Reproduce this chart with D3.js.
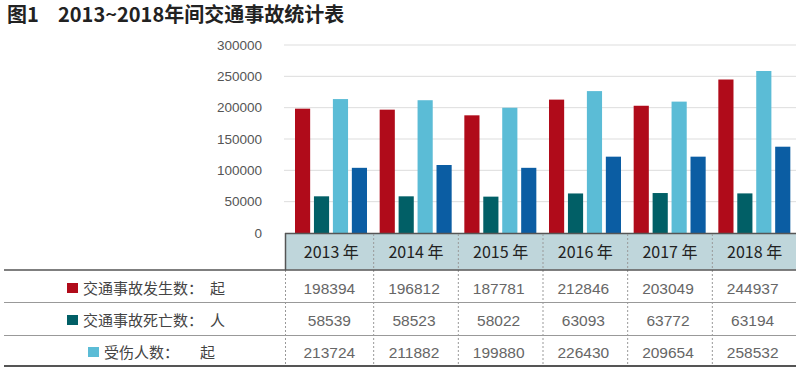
<!DOCTYPE html>
<html><head><meta charset="utf-8">
<script src="https://cdn.jsdelivr.net/npm/d3@7"></script>
<style>html,body{margin:0;padding:0;background:#fff;}svg{display:block;}</style>
</head><body>
<svg id="c" width="800" height="372"></svg>
<script>
const years = ["2013","2014","2015","2016","2017","2018"];
const accidents = [198394,196812,187781,212846,203049,244937];
const deaths = [58539,58523,58022,63093,63772,63194];
const injuries = [213724,211882,199880,226430,209654,258532];
const losses = [104000,108500,104000,121800,121800,137700];
const yTicks = [0,50000,100000,150000,200000,250000,300000];
const seriesNames = ["发生数","死亡数","受伤人数","损失"];
const colors = ["#b00b1a","#015f66","#5bbcd6","#0b5da3"];
const rowLabels = [
  {name:"交通事故发生数：", unit:"起", values:accidents, color:colors[0]},
  {name:"交通事故死亡数：", unit:"人", values:deaths, color:colors[1]},
  {name:"受伤人数：", unit:"起", values:injuries, color:colors[2]}
];

const svg = d3.select("#c");
const font = "'Liberation Sans','Noto Sans CJK SC',sans-serif";
const cjk = "'Noto Sans CJK SC',sans-serif";

svg.append("text").attr("x",7).attr("y",22).attr("font-family",cjk).attr("font-weight","bold")
  .attr("font-size",20).attr("fill","#222").text("图1");
svg.append("text").attr("x",58).attr("y",22).attr("font-family",cjk).attr("font-weight","bold")
  .attr("font-size",20).attr("fill","#222").text("2013~2018年间交通事故统计表");

const x0 = d3.scaleBand().domain(years).range([289,797]);
const x1 = d3.scaleBand().domain(seriesNames).range([6,78]).paddingInner(0.2);
const y = d3.scaleLinear().domain([0,300000]).range([233,45]);

// grid
svg.append("g").selectAll("line").data(yTicks.filter(d=>d>0)).join("line")
  .attr("x1",284).attr("x2",796).attr("y1",d=>y(d)).attr("y2",d=>y(d))
  .attr("stroke","#dddddd").attr("stroke-width",1);

// y axis labels
const yAxis = d3.axisLeft(y).tickValues(yTicks).tickSize(0).tickPadding(0).tickFormat(d=>String(d));
const ga = svg.append("g").attr("transform","translate(262,0)").call(yAxis);
ga.select(".domain").remove();
ga.selectAll("text").attr("font-family",font).attr("font-size",13.5).attr("fill","#555");

// bars
const all = [accidents,deaths,injuries,losses];
const g = svg.append("g");
years.forEach((yr,i)=>{
  all.forEach((s,j)=>{
    g.append("rect").attr("x",x0(yr)+x1(seriesNames[j])).attr("width",x1.bandwidth())
      .attr("y",y(s[i])).attr("height",y(0)-y(s[i])).attr("fill",colors[j]);
  });
});

// header
svg.append("rect").attr("x",285).attr("y",233.5).attr("width",511).attr("height",36)
  .attr("fill","#bfd6db");
svg.append("line").attr("x1",285).attr("x2",796).attr("y1",233.5).attr("y2",233.5).attr("stroke","#555").attr("stroke-width",1.5);
svg.append("line").attr("x1",285.5).attr("x2",285.5).attr("y1",233).attr("y2",270).attr("stroke","#555").attr("stroke-width",1.5);
svg.append("g").selectAll("text").data(years).join("text")
  .attr("x",d=>x0(d)+x0.bandwidth()/2).attr("y",258).attr("text-anchor","middle")
  .attr("font-family",cjk).attr("font-size",16).attr("fill","#222").text(d=>d+" 年");

// dividers
svg.append("g").selectAll("line").data(years.slice(1)).join("line")
  .attr("x1",d=>x0(d)).attr("x2",d=>x0(d)).attr("y1",234).attr("y2",366)
  .attr("stroke","#999").attr("stroke-width",1).attr("stroke-dasharray","2,2");
svg.append("line").attr("x1",285.5).attr("x2",285.5).attr("y1",270).attr("y2",366)
  .attr("stroke","#999").attr("stroke-width",1).attr("stroke-dasharray","2,2");

// row lines
svg.append("line").attr("x1",4).attr("x2",796).attr("y1",270).attr("y2",270).attr("stroke","#555").attr("stroke-width",1.5);
[302,335].forEach(v=>svg.append("line").attr("x1",4).attr("x2",796).attr("y1",v+0.5).attr("y2",v+0.5).attr("stroke","#999").attr("stroke-width",1));
svg.append("line").attr("x1",4).attr("x2",796).attr("y1",366).attr("y2",366).attr("stroke","#555").attr("stroke-width",2);

const rowY = [288,320,352];
const sqX = [67,67,88];
rowLabels.forEach((r,k)=>{
  const cy = rowY[k];
  svg.append("rect").attr("x",sqX[k]).attr("y",cy-5).attr("width",11).attr("height",10).attr("fill",r.color);
  svg.append("text").attr("x",sqX[k]+16).attr("y",cy+5.5).attr("font-family",cjk).attr("font-size",15)
    .attr("fill","#444").text(r.name);
  svg.append("text").attr("x",k==2?200:210).attr("y",cy+5.5).attr("font-family",cjk).attr("font-size",15)
    .attr("fill","#444").text(r.unit);
  svg.append("g").selectAll("text").data(r.values).join("text")
    .attr("x",(d,i)=>x0(years[i])+x0.bandwidth()/2 - 2).attr("y",cy+5.5).attr("text-anchor","middle")
    .attr("font-family",font).attr("font-size",15.5).attr("fill","#666").text(d=>d);
});
</script>
</body></html>
